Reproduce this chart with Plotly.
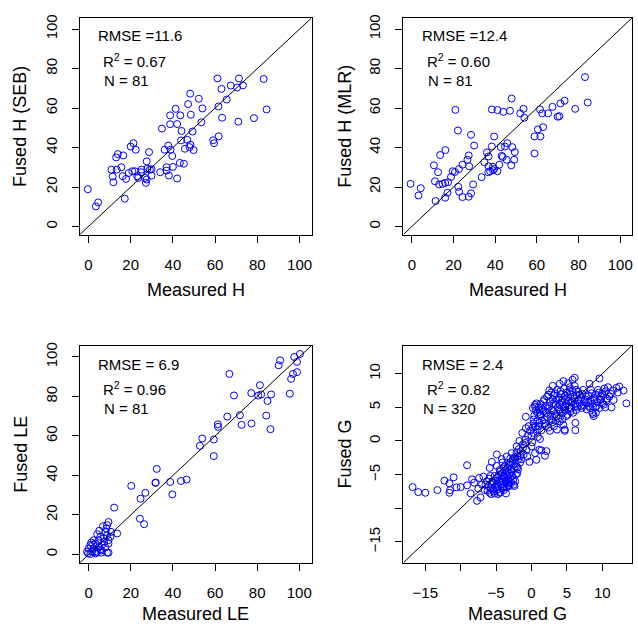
import plotly.graph_objects as go

W, H = 638, 626

# ---------------- data ----------------
seb_meas = [-0.3, 3.5, 4.6, 17.2, 10.9, 11.5, 11.8, 13.1, 13.9, 13.4, 15.6, 16.5, 16.2, 17.8, 19.1,
            20.0, 21.3, 22.4, 20.8, 22.0, 23.1, 25.2, 26.9, 27.2, 27.6, 28.7, 27.9, 29.1, 29.9, 27.6,
            34.0, 34.8, 36.1, 37.0, 37.0, 37.8, 38.1, 38.7, 38.7, 38.9, 39.7, 40.0, 41.3, 42.0, 42.0,
            43.5, 43.3, 44.1, 43.9, 45.2, 45.7, 46.8, 47.2, 48.2, 48.3, 47.9, 48.5, 49.3, 49.8, 52.3,
            53.5, 54.0, 59.1, 59.5, 61.1, 61.6, 61.7, 63.0, 63.3, 65.5, 67.4, 70.4, 71.3, 71.0, 73.2,
            78.4, 83.0, 84.4, 24.9, 23.6, 29.9]
seb_fused = [18.9, 10.2, 12.2, 14.1, 28.8, 25.3, 22.4, 35.0, 36.7, 28.8, 30.0, 36.0, 25.5, 24.1, 27.1,
             40.5, 42.2, 38.9, 28.0, 28.0, 25.5, 28.8, 24.6, 22.1, 33.0, 37.7, 29.3, 28.8, 25.8, 23.8,
             27.5, 49.6, 38.9, 30.0, 28.3, 41.0, 25.8, 56.3, 51.8, 38.9, 35.7, 30.2, 59.6, 51.9, 24.3,
             56.3, 32.2, 48.4, 43.6, 31.8, 39.4, 43.9, 62.0, 67.3, 41.4, 40.2, 56.6, 48.1, 38.7, 64.7,
             52.8, 59.8, 43.7, 42.2, 75.0, 60.8, 45.7, 69.7, 55.1, 64.3, 71.4, 70.4, 75.0, 53.1, 71.5,
             54.9, 74.7, 59.3, 27.5, 24.6, 29.0]

mlr_meas = [-0.6, 3.2, 4.3, 10.6, 11.1, 11.4, 12.6, 13.1, 13.6, 14.8, 16.0, 16.1, 16.0, 17.1, 17.4,
            18.8, 19.6, 20.7, 20.9, 22.1, 22.3, 22.7, 22.6, 24.3, 24.3, 26.7, 27.3, 27.5, 27.3, 28.4,
            28.4, 29.9, 29.4, 33.5, 34.8, 36.0, 36.8, 36.8, 36.7, 37.6, 38.4, 38.4, 38.9, 39.5, 39.5,
            41.1, 42.0, 42.7, 43.1, 43.6, 43.9, 44.7, 45.8, 45.5, 47.1, 47.9, 48.2, 47.7, 49.1, 49.4,
            52.0, 53.6, 54.0, 58.9, 58.9, 60.5, 61.7, 61.5, 62.6, 63.0, 65.4, 67.5, 70.0, 70.8, 71.3,
            73.3, 78.4, 83.1, 84.4, 38.9, 41.1]
mlr_fused = [21.6, 15.7, 19.4, 31.0, 22.9, 12.9, 27.5, 21.3, 36.2, 21.6, 22.1, 38.7, 14.6, 17.1, 22.4,
             25.1, 28.0, 27.6, 59.1, 48.6, 20.1, 17.6, 29.1, 31.3, 14.9, 33.8, 36.0, 30.5, 15.1, 16.8,
             46.4, 41.0, 21.3, 25.0, 32.5, 37.5, 35.5, 30.5, 27.5, 28.0, 59.3, 40.5, 28.5, 45.6, 29.1,
             59.0, 31.3, 40.2, 35.8, 35.2, 58.1, 40.5, 42.2, 33.8, 58.6, 64.8, 40.2, 31.0, 33.8, 37.7,
             57.3, 59.6, 55.1, 37.0, 45.6, 49.2, 45.6, 59.3, 57.3, 50.3, 57.3, 60.6, 55.6, 55.9, 62.3,
             63.7, 59.6, 75.7, 62.8, 30.2, 28.0]

le_meas = [100.3, 97.6, 90.9, 90.2, 98.9, 97.0, 98.9, 96.1, 95.5, 66.8, 69.0, 77.2, 81.3, 80.5, 81.9,
           86.6, 84.9, 71.8, 72.6, 77.3, 65.8, 84.3, 86.3, 61.3, 61.4, 53.9, 52.8, 59.4, 59.4, 32.3,
           31.7, 31.8, 20.2, 26.9, 24.6, 38.7, 43.8, 46.5, 39.7, 24.3, 26.3, 12.1, 13.5,
           9.4, 8.7, 6.8, 8.4, 10.6, 7.9, 4.0, 8.7, 5.5, 2.4, 4.7, 9.4, 7.4, 0.8, 3.2, 6.3, 9.4,
           0.0, 2.4, 4.7, 7.9, -0.8, 1.6, 4.0, 5.9, 8.7, 9.4, 3.2, 0.8, -0.3, 5.5, 7.1, 10.3,
           2.0, 6.0, 3.5, 1.2, 5.0]
le_fused = [101.5, 100.0, 98.3, 95.8, 97.5, 91.4, 92.3, 88.9, 81.4, 91.4, 80.5, 81.7, 85.7, 80.4, 81.0,
            81.0, 77.7, 70.5, 65.6, 66.3, 69.8, 70.3, 63.4, 65.9, 64.6, 58.7, 55.0, 58.2, 49.8, 43.3,
            36.2, 36.4, 34.7, 31.2, 28.2, 36.7, 37.2, 37.9, 30.4, 18.1, 15.3, 23.7, 10.6,
            16.4, 14.8, 14.3, 13.1, 11.4, 11.4, 10.2, 9.7, 8.9, 7.2, 7.2, 7.2, 6.4, 4.7, 5.5, 4.7, 5.5,
            3.0, 3.0, 3.5, 3.5, 1.4, 1.4, 1.4, 0.9, 0.9, 0.9, 0.5, 0.2, 0.5, 2.5, 8.1, 8.9,
            5.0, 2.0, 1.0, 6.0, 12.0]

g_meas = [-16.8, -16.0, -15.0, -13.3, -12.3, -11.6, -11.6, -11.5, -11.0, -10.6, -10.0, -9.1, -9.1, -8.6,
          -8.4, -8.1, -7.7, -7.5, -7.4, -7.2, -7.0, -6.8, -6.6, -6.3, -6.1, -5.9, -5.9, -5.6, -5.8, -5.5,
          -5.4, -5.2, -4.9, -4.9, -4.9, -4.7, -4.5, -4.4, -4.3, -4.2, -4.0, -3.9, -3.7, -3.6, -3.5, -3.4,
          -3.3, -3.1, -3.0, -2.9, -2.8, -2.7, -2.6, -2.4, -2.3, -2.2, -2.1, -2.0, -1.9, -1.7, -1.6, -1.5,
          -1.4, -1.3, -1.2, -1.1, -0.9, -0.8, -0.8, -0.7, -0.6, -0.3, 0.0, 0.3, 0.5, 0.7, 0.8, 0.9, 1.1,
          1.2, 1.4, 1.9, 2.1,
          0.5, 0.7, 0.2, 0.3, 0.6, 1.1, 1.3, 1.6, 1.7, 1.8, 2.0, 2.1, 2.4, 2.5, 2.6, 2.8, 3.0, 3.1, 3.2,
          3.3, 3.4, 3.5, 3.6, 3.8, 3.9, 4.0, 4.1, 4.3, 4.4, 4.5, 4.7, 4.7, 4.7, 4.8, 4.9, 5.2, 5.2, 5.4,
          5.5, 5.6, 5.8, 5.9, 6.1, 6.2, 6.2, 6.2, 6.3, 6.6, 6.8, 7.0, 7.3, 7.5, 7.7, 8.0, 8.2, 8.3, 8.5,
          8.6, 8.8, 8.9, 9.2, 9.4, 9.6, 9.7, 10.0, 10.2, 10.5, 10.8, 11.0, 11.3, 11.5, 12.2, 12.4, 13.0,
          13.4, 10.6, 9.8, 9.1,
          -5.8, -5.6, -5.3, -5.1, -5.0, -4.8, -4.6, -4.6, -4.4, -4.3, -4.2, -4.1, -4.0, -3.9, -3.8, -3.8,
          -3.7, -3.6, -3.5, -3.4, -3.3, -3.2, -3.1, -3.0, -2.9, -2.8, -2.7, -2.6, -2.5, -2.4, -2.3, -2.2,
          -2.1, -2.0, -1.9, -1.8, -5.5, -5.2, -4.9, -4.7, -4.5, -4.2, -3.9, -3.6, -3.3, -3.1, -6.2, -6.5,
          -6.0, -5.7, -4.1, -3.0, -2.5, -2.0, -1.6, -1.2, -0.9, -0.5, -0.2, 0.1,
          0.2, 0.4, 0.6, 0.8, 1.0, 1.0, 1.2, 1.3, 1.4, 1.5, 1.7, 1.8, 1.9, 2.0, 2.2, 2.2, 2.3, 2.4, 2.6,
          2.7, 2.8, 2.9, 3.0, 3.1, 3.2, 3.3, 3.4, 3.5, 3.6, 3.7, 3.8, 3.9, 4.0, 4.1, 4.2, 4.3, 4.4, 4.5,
          4.6, 4.7, 4.8, 4.9, 5.0, 5.1, 5.2, 5.3, 5.4, 5.5, 5.6, 5.7, 5.8, 5.9, 6.0, 6.1, 6.2, 6.3, 6.4,
          6.5, 6.6, 6.8, 7.0, 7.1, 7.2, 7.4, 7.6, 7.8, 8.0, 8.1, 8.3, 8.4, 8.6, 8.7, 8.8, 9.0, 9.1, 9.3,
          9.5, 9.6, 9.8, 10.0, 10.1, 10.3, 10.4, 10.7, 11.2, 11.6, 12.0, 0.0, 0.3, 0.9, -0.4, 0.5, 1.1,
          2.5, 3.0, 4.0, 4.5]
g_fused = [-6.85, -7.6, -7.7, -7.3, -5.9, -6.3, -7.7, -7.3, -5.4, -6.9, -6.85, -3.6, -6.6, -7.8,
           -5.7, -6.2, -8.9, -7.1, -5.5, -8.4, -6.5, -5.3, -7.3, -6.0, -6.7, -4.0, -7.7, -3.1, -5.2, -7.2,
           -6.2, -7.8, -2.0, -3.7, -5.5, -6.7, -7.7, -4.5, -6.0, -2.7, -7.0, -5.2, -3.7, -6.2, -2.3, -4.6,
           -5.7, -6.7, -3.2, -4.2, -1.8, -5.2, -2.7, -6.7, -6.0, -3.8, -0.8, -2.3, -4.2, 0.0, -3.2, -1.5,
           -2.7, 1.2, -0.5, -2.0, 0.2, 3.6, 1.9, -1.3, -2.3, -3.1, -0.8, 2.6, -1.8, -2.8, 1.7, 4.2, -1.3,
           0.3, -1.4, -2.2, -1.5,
           5.1, 5.6, 4.9, 3.2, 2.2, 2.7, 3.7, 4.7, 5.9, 3.2, 2.2, 4.2, 6.9, 5.2, 1.5, 3.2, 6.2, 4.4, 2.2,
           7.1, 5.4, 3.7, 1.7, 6.2, 4.7, 2.9, 7.4, 5.7, 4.2, 2.4, 6.7, 1.7, 1.5, 5.2, 3.7, 8.6, 6.0, 7.4,
           4.4, 5.7, 9.1, 6.6, 9.4, 2.7, 1.6, 5.2, 7.6, 6.1, 6.9, 5.2, 7.6, 5.9, 6.6, 5.7, 8.5, 4.9, 7.1,
           4.2, 3.7, 6.1, 5.2, 7.6, 9.3, 6.1, 7.1, 5.4, 7.4, 8.0, 6.6, 5.0, 7.5, 7.2, 8.1, 7.5,
           5.6, 6.0, 6.6, 4.2,
           -7.0, -6.4, -7.5, -6.8, -5.9, -7.2, -6.1, -5.0, -7.6, -6.5, -5.6, -4.8, -6.0, -7.3, -6.8, -5.4,
           -4.4, -5.9, -6.9, -5.1, -4.0, -6.3, -3.5, -5.5, -6.1, -4.6, -3.0, -5.8, -4.0, -2.4, -3.4, -5.0,
           -1.7, -3.9, -2.8, -1.2, -6.0, -5.2, -6.4, -7.9, -4.3, -7.0, -3.9, -7.8, -6.6, -4.9, -7.4, -6.5,
           -5.6, -7.9, -3.2, -2.6, -6.5, -4.8, -2.2, -1.0, -0.3, 0.8, 1.5, -0.2,
           2.0, 3.8, 4.5, 3.0, 5.0, 2.2, 4.0, 5.5, 1.6, 3.0, 4.4, 6.2, 2.6, 5.2, 3.6, 6.6, 4.8, 2.0, 5.8,
           3.9, 7.2, 4.6, 2.8, 5.6, 6.8, 4.0, 3.0, 6.1, 7.6, 5.0, 3.4, 6.5, 5.4, 4.4, 7.0, 6.0, 3.2, 5.0,
           7.8, 6.2, 4.5, 5.6, 7.2, 3.9, 6.5, 5.0, 8.0, 6.9, 4.8, 5.9, 7.5, 4.2, 6.3, 8.2, 5.5, 4.6, 6.8,
           5.1, 7.3, 5.6, 6.4, 4.9, 7.0, 5.3, 6.2, 4.7, 6.8, 5.2, 6.0, 7.6, 5.5, 4.0, 6.4, 5.0, 6.9, 5.8,
           7.2, 4.9, 6.2, 5.6, 6.8, 7.8, 5.0, 6.3, 7.0, 6.1, 7.9, 0.8, 1.2, 0.6, 2.2, 5.4, 4.7,
           7.5, 8.2, 8.5, 8.9]

panels = [
    dict(x=seb_meas, y=seb_fused, xt="Measured H", yt="Fused H (SEB)",
         stats=["RMSE =11.6", "R<sup>2</sup> = 0.67", "N = 81"],
         rng=[-4.06, 105.66], ticks=[0, 20, 40, 60, 80, 100],
         labels=["0", "20", "40", "60", "80", "100"],
         box=(80, 312, 14, 232), txt=(96.5, 101.5, 102.5), ty=(32, 57, 77), ytx=20.7, xty=288),
    dict(x=mlr_meas, y=mlr_fused, xt="Measured H", yt="Fused H (MLR)",
         stats=["RMSE =12.4", "R<sup>2</sup> = 0.60", "N = 81"],
         rng=[-4.06, 105.66], ticks=[0, 20, 40, 60, 80, 100],
         labels=["0", "20", "40", "60", "80", "100"],
         box=(404, 633, 14, 232), txt=(420.7, 425.3, 426.3), ty=(32, 57, 77), ytx=346, xty=288),
    dict(x=le_meas, y=le_fused, xt="Measured LE", yt="Fused LE",
         stats=["RMSE = 6.9", "R<sup>2</sup> = 0.96", "N = 81"],
         rng=[-4.2, 105.8], ticks=[0, 20, 40, 60, 80, 100],
         labels=["0", "20", "40", "60", "80", "100"],
         box=(80, 312, 343.7, 562.3), txt=(96.5, 101.5, 102.3), ty=(363, 387, 407.3), ytx=20.7,
         xty=614),
    dict(x=g_meas, y=g_fused, xt="Measured G", yt="Fused G",
         stats=["RMSE = 2.4", "R<sup>2</sup> = 0.82", "N = 320"],
         rng=[-18.1, 14.2], ticks=[-15, -10, -5, 0, 5, 10],
         labels=["\u221215", "", "\u22125", "0", "5", "10"],
         box=(404, 633, 343.7, 562.3), txt=(420.7, 425.3, 422), ty=(363, 387, 407.3), ytx=346,
         xty=614),
]

FONT = "Liberation Sans, Arial, Helvetica, sans-serif"
fig = go.Figure()
annotations = []
layout = dict(width=W, height=H, margin=dict(l=0, r=0, t=0, b=0),
              paper_bgcolor="white", plot_bgcolor="white", showlegend=False,
              font=dict(family=FONT, color="black"))

for i, p in enumerate(panels, start=1):
    xa = "x" if i == 1 else f"x{i}"
    ya = "y" if i == 1 else f"y{i}"
    l, r, t, b = p["box"]
    axcommon = dict(range=p["rng"], tickvals=p["ticks"], ticktext=p["labels"],
                    ticks="outside", ticklen=7, tickwidth=1, tickcolor="black",
                    showline=True, linecolor="black", linewidth=1, mirror=True,
                    showgrid=False, zeroline=False, tickfont=dict(size=15, family=FONT),
                    ticklabelstandoff=9)
    layout["xaxis" if i == 1 else f"xaxis{i}"] = dict(
        domain=[l / W, r / W], anchor=ya, **axcommon)
    layout["yaxis" if i == 1 else f"yaxis{i}"] = dict(
        domain=[1 - b / H, 1 - t / H], anchor=xa, tickangle=-90, **axcommon)

    fig.add_trace(go.Scatter(x=p["x"], y=p["y"], mode="markers", xaxis=xa, yaxis=ya,
                             marker=dict(symbol="circle-open", size=7, color="blue",
                                         line=dict(width=1, color="blue"))))
    fig.add_trace(go.Scatter(x=p["rng"], y=p["rng"], mode="lines", xaxis=xa, yaxis=ya,
                             line=dict(color="black", width=1)))

    for s, tx, ty in zip(p["stats"], p["txt"], p["ty"]):
        annotations.append(dict(text=s, x=tx / W, y=1 - ty / H, xref="paper", yref="paper",
                                xanchor="left", yanchor="middle", showarrow=False,
                                font=dict(size=15, family=FONT, color="black")))
    annotations.append(dict(text=p["xt"], x=(l + r) / 2 / W, y=1 - p["xty"] / H,
                            xref="paper", yref="paper", xanchor="center", yanchor="middle",
                            showarrow=False, font=dict(size=18, family=FONT, color="black")))
    annotations.append(dict(text=p["yt"], x=p["ytx"] / W, y=1 - (t + b) / 2 / H,
                            xref="paper", yref="paper", xanchor="center", yanchor="middle",
                            textangle=-90, showarrow=False,
                            font=dict(size=18, family=FONT, color="black")))

layout["annotations"] = annotations
fig.update_layout(**layout)

post = ("document.body.style.margin='0';document.body.style.padding='0';"
        "document.body.style.overflow='hidden';"
        "var d=document.getElementById('{plot_id}');"
        "d.style.position='fixed';d.style.left='0px';d.style.top='0px';")
fig.write_html("out.html", post_script=post, config={"displayModeBar": False})
